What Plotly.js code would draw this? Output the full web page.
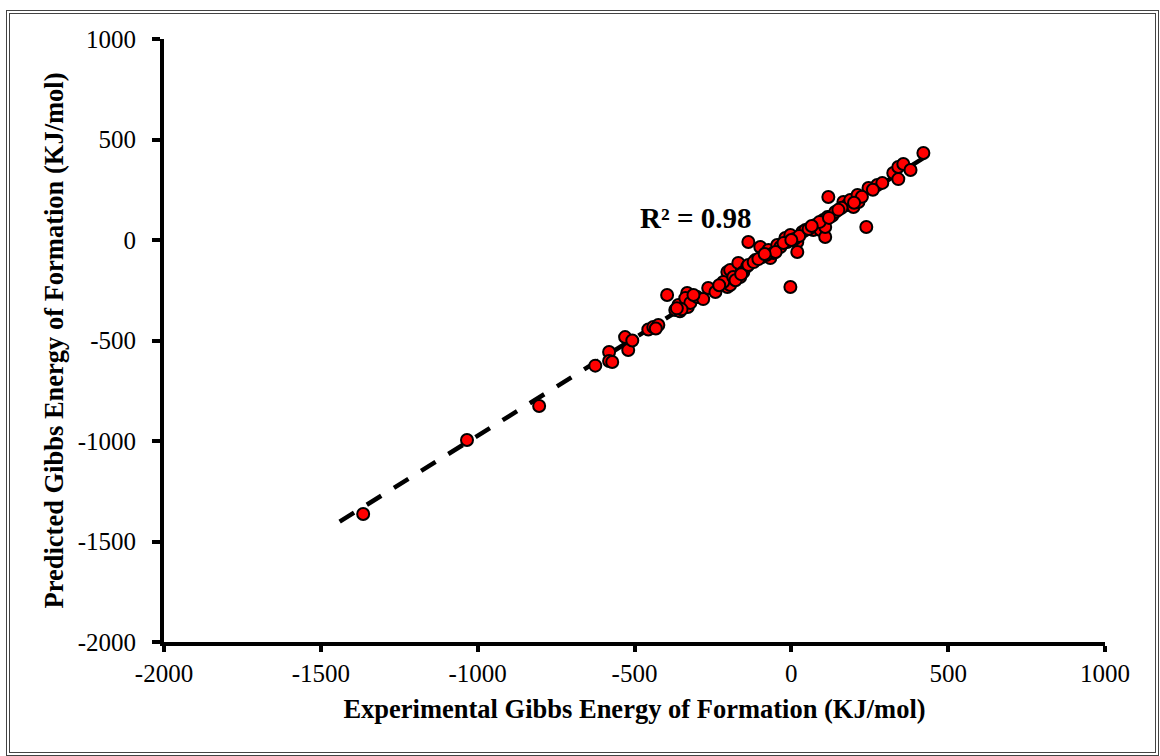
<!DOCTYPE html>
<html>
<head>
<meta charset="utf-8">
<script src="https://cdn.plot.ly/plotly-3.0.1.min.js"></script>
<style>
  html, body { margin: 0; padding: 0; background: #fff; }
  #wrap { position: relative; width: 1160px; height: 756px; }
  #chart { width: 1160px; height: 756px; }
  #frame { position: absolute; left: 6px; top: 10px; width: 1145px; height: 738px;
           border: 4px double #444; pointer-events: none; }
</style>
</head>
<body>
<div id="wrap">
  <div id="chart"></div>
  <div id="frame"></div>
</div>
<script>
// Experimental (x) vs predicted (y) Gibbs energy of formation, kJ/mol
const experimental = [
  -1365, -1034, -804,
  -625, -581, -581, -571, -530, -520, -507,
  -456, -440, -424, -432,
  -396, -370, -355, -345, -330, -360, -332, -338, -322, -300, -281, -312, -350, -365,
  -265, -242, -217, -204, -204, -195, -217, -163, -195, -169, -185, -153, -178, -140, -230, -160,
  -137, -137, -115, -99, -93, -73, -67, -57, -45, -35, -19, -13, -3, -3, -80, -50, -25, -120, -105, -85,
  19, 19, 35, 45, 61, 77, 70, 83, 93, 102, 108, 115, 118, 108, 10, 25, 55, 90, 130, 140, 0, 65, 120,
  166, 179, 188, 198, 211, 214, 239, 246, 274, 290, 160, 225, 200, 150, 260,
  325, 341, 341, 357, 380, 421
];
const predicted = [
  -1363, -995, -826,
  -625, -557, -602, -607, -483, -547, -500,
  -445, -433, -423, -440,
  -274, -348, -355, -338, -333, -323, -264, -289, -313, -284, -294, -274, -345, -340,
  -239, -259, -214, -159, -234, -224, -209, -184, -149, -114, -184, -159, -200, -130, -225, -170,
  -10, -124, -100, -35, -85, -50, -90, -65, -25, -35, 10, -10, 25, -234, -75, -60, -15, -110, -95, -70,
  -10, -60, 40, 50, 60, 75, 50, 75, 50, 100, 15, 114, 214, 65, 5, 20, 55, 90, 120, 139, 0, 70, 110,
  189, 174, 199, 164, 224, 189, 65, 259, 274, 284, 160, 215, 185, 150, 250,
  333, 303, 363, 378, 348, 433
];
// Trendline extent (Excel-style, with backward forecast)
const trendExtent = [-1440, 425];
const rSquaredLabel = "R\u00b2 = 0.98";

const tickValues = [-2000, -1500, -1000, -500, 0, 500, 1000];
const tickLabels = ["-2000", "-1500", "-1000", "-500", "0", "500", "1000"];

// least-squares fit of predicted on experimental
const n = experimental.length;
const mx = experimental.reduce((a, b) => a + b, 0) / n;
const my = predicted.reduce((a, b) => a + b, 0) / n;
let sxy = 0, sxx = 0;
for (let i = 0; i < n; i++) {
  sxy += (experimental[i] - mx) * (predicted[i] - my);
  sxx += (experimental[i] - mx) ** 2;
}
const slope = sxy / sxx;
const intercept = my - slope * mx;
const trendY = trendExtent.map(x => slope * x + intercept);

const serif = "'Liberation Serif', 'Times New Roman', serif";

const traces = [
  {
    x: trendExtent, y: trendY, type: "scatter", mode: "lines",
    line: { color: "#000", width: 4.5, dash: "17px,15px" },
    hoverinfo: "skip", showlegend: false
  },
  {
    x: experimental, y: predicted, type: "scatter", mode: "markers",
    marker: { color: "#ff0000", size: 12, line: { color: "#000", width: 2 } },
    showlegend: false
  }
];

const axisCommon = {
  range: [-2000, 1000],
  tickmode: "array",
  tickvals: tickValues,
  ticktext: tickLabels,
  showgrid: false,
  zeroline: false,
  showline: true,
  linecolor: "#000",
  linewidth: 4,
  ticks: "outside",
  tickcolor: "#000",
  tickwidth: 4,
  tickfont: { family: serif, size: 25, color: "#000" },
  fixedrange: true
};

const layout = {
  width: 1160, height: 756,
  margin: { l: 164, r: 55, t: 39, b: 114 },
  paper_bgcolor: "#fff", plot_bgcolor: "#fff",
  showlegend: false,
  xaxis: Object.assign({}, axisCommon, {
    ticklen: 6,
    ticklabelstandoff: 0,
    title: { text: "<b>Experimental Gibbs Energy of Formation (KJ/mol)</b>",
             font: { family: serif, size: 26.5, color: "#000" }, standoff: 14 }
  }),
  yaxis: Object.assign({}, axisCommon, {
    ticklen: 8,
    ticklabelstandoff: 11,
    title: { text: "<b>Predicted Gibbs Energy of Formation (KJ/mol)</b>",
             font: { family: serif, size: 26.5, color: "#000" }, standoff: 7 }
  }),
  annotations: [{
    x: -306, y: 109, xref: "x", yref: "y",
    text: "<b>" + rSquaredLabel + "</b>", showarrow: false,
    xanchor: "center", yanchor: "middle",
    font: { family: serif, size: 29, color: "#000" }
  }]
};

Plotly.newPlot("chart", traces, layout, { displayModeBar: false, staticPlot: true });
</script>
</body>
</html>
